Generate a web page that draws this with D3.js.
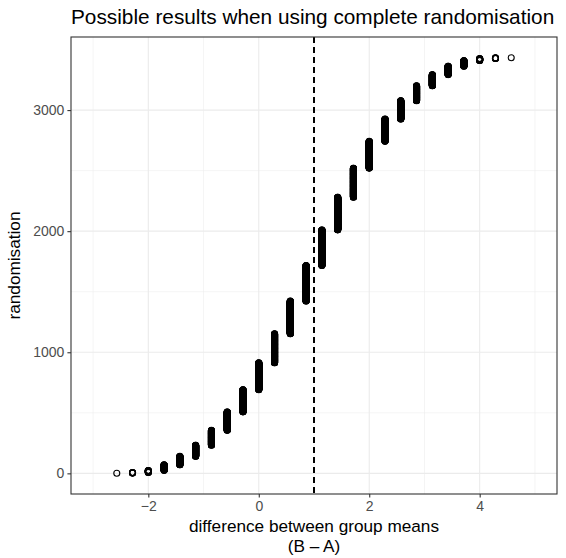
<!DOCTYPE html>
<html>
<head>
<meta charset="utf-8">
<script src="https://cdn.jsdelivr.net/npm/d3@7"></script>
<style>
  body { margin: 0; background: #fff; }
  svg { display: block; font-family: "Liberation Sans", Arial, sans-serif; }
</style>
</head>
<body>
<div id="chart"></div>
<script>
// distinct differences between group means (B - A)
const diffs = [-2.571, -2.286, -2.0, -1.714, -1.429, -1.143, -0.857, -0.571, -0.286, 0.0, 0.286, 0.571, 0.857,
               1.143, 1.429, 1.714, 2.0, 2.286, 2.571, 2.857, 3.143, 3.429, 3.714, 4.0, 4.286, 4.571];
// number of randomisations giving each difference
const counts = [1, 6, 17, 46, 70, 92, 123, 152, 183, 222, 240, 270, 294,
                294, 270, 240, 222, 183, 152, 123, 92, 70, 46, 17, 6, 1];
const xTicks = [-2, 0, 2, 4];
const yTicks = [0, 1000, 2000, 3000];
const observed = 1;

// one row per randomisation, sorted by difference
const rows = [];
diffs.forEach((d, i) => {
    for (let k = 0; k < counts[i]; k++) rows.push({ diff: d, randomisation: rows.length + 1 });
});

const width = 566, height = 558;
const margin = { top: 37, right: 9, bottom: 64, left: 71 };

const svg = d3.select("#chart").append("svg")
    .attr("width", width)
    .attr("height", height);

const x = d3.scaleLinear()
    .domain([-3.4, 5.4])
    .range([margin.left, width - margin.right]);

const n = rows.length;
const pad = (n - 1) * 0.05;
const y = d3.scaleLinear()
    .domain([1 - pad, n + pad])
    .range([height - margin.bottom, margin.top]);

const g = svg.append("g");

// minor grid
const xMinor = [-3, -1, 1, 3, 5];
const yMinor = [500, 1500, 2500];
g.append("g").selectAll("line").data(xMinor).join("line")
    .attr("x1", d => x(d)).attr("x2", d => x(d))
    .attr("y1", margin.top).attr("y2", height - margin.bottom)
    .attr("stroke", "#ebebeb").attr("stroke-width", 0.55);
g.append("g").selectAll("line").data(yMinor).join("line")
    .attr("y1", d => y(d)).attr("y2", d => y(d))
    .attr("x1", margin.left).attr("x2", width - margin.right)
    .attr("stroke", "#ebebeb").attr("stroke-width", 0.55);

// major grid
g.append("g").selectAll("line").data(xTicks).join("line")
    .attr("x1", d => x(d)).attr("x2", d => x(d))
    .attr("y1", margin.top).attr("y2", height - margin.bottom)
    .attr("stroke", "#ebebeb").attr("stroke-width", 1.1);
g.append("g").selectAll("line").data(yTicks).join("line")
    .attr("y1", d => y(d)).attr("y2", d => y(d))
    .attr("x1", margin.left).attr("x2", width - margin.right)
    .attr("stroke", "#ebebeb").attr("stroke-width", 1.1);

// points
g.append("g").selectAll("circle").data(rows).join("circle")
    .attr("cx", d => x(d.diff))
    .attr("cy", d => y(d.randomisation))
    .attr("r", 3)
    .attr("fill", "none")
    .attr("stroke", "#000")
    .attr("stroke-width", 1.1);

// observed difference
g.append("line")
    .attr("x1", x(observed)).attr("x2", x(observed))
    .attr("y1", margin.top).attr("y2", height - margin.bottom)
    .attr("stroke", "#000").attr("stroke-width", 1.1)
    .attr("stroke-dasharray", "6,4")
    .attr("shape-rendering", "crispEdges");

// panel border
g.append("rect")
    .attr("x", margin.left).attr("y", margin.top)
    .attr("width", width - margin.left - margin.right)
    .attr("height", height - margin.top - margin.bottom)
    .attr("fill", "none").attr("stroke", "#333").attr("stroke-width", 1.1);

// axes
const xAxis = svg.append("g")
    .attr("transform", `translate(0,${height - margin.bottom})`)
    .call(d3.axisBottom(x).tickValues(xTicks).tickSize(3.6).tickPadding(3)
        .tickFormat(d => d < 0 ? "\u2212" + Math.abs(d) : d));
const yAxis = svg.append("g")
    .attr("transform", `translate(${margin.left},0)`)
    .call(d3.axisLeft(y).tickValues(yTicks).tickSize(3.6).tickPadding(3).tickFormat(d3.format("d")));

[xAxis, yAxis].forEach(a => {
    a.select(".domain").remove();
    a.selectAll(".tick line").attr("stroke", "#333").attr("stroke-width", 1.1);
    a.selectAll(".tick text").attr("fill", "#4d4d4d").style("font-size", "14px");
});

// labels
svg.append("text")
    .attr("x", margin.left).attr("y", 24)
    .style("font-size", "20.8px")
    .attr("fill", "#000")
    .text("Possible results when using complete randomisation");

const cx = (margin.left + width - margin.right) / 2;
svg.append("text")
    .attr("text-anchor", "middle")
    .attr("x", cx).attr("y", 532)
    .style("font-size", "17.2px")
    .text("difference between group means");
svg.append("text")
    .attr("text-anchor", "middle")
    .attr("x", cx).attr("y", 551.5)
    .style("font-size", "17.2px")
    .text("(B \u2013 A)");

svg.append("text")
    .attr("text-anchor", "middle")
    .attr("transform", `translate(20,${(margin.top + height - margin.bottom) / 2}) rotate(-90)`)
    .style("font-size", "17.2px")
    .text("randomisation");
</script>
</body>
</html>
